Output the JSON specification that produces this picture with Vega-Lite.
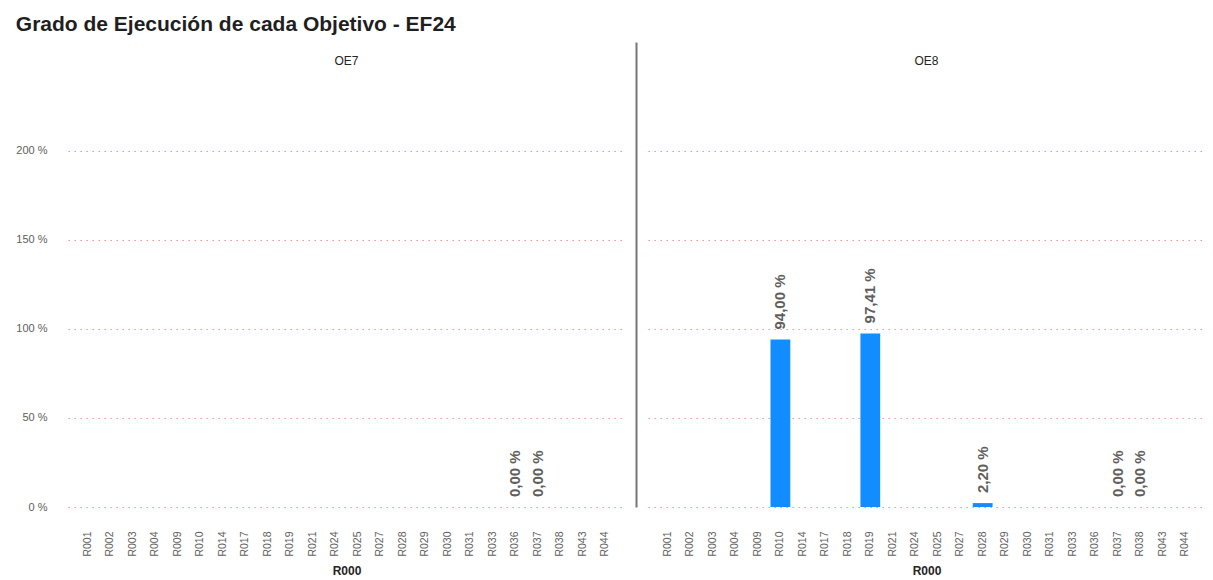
{
  "$schema": "https://vega.github.io/schema/vega-lite/v6.json",
  "padding": {"left": 15, "top": 14, "right": 8, "bottom": 0},
  "background": "#ffffff",
  "title": {
    "text": "Grado de Ejecución de cada Objetivo - EF24",
    "anchor": "start",
    "font": "Liberation Sans",
    "fontSize": 21,
    "fontWeight": "bold",
    "color": "#1f1f1f",
    "offset": 7
  },
  "config": {
    "locale": {
      "number": {"decimal": ",", "thousands": ".", "grouping": [3], "currency": ["", " %"]}
    },
    "font": "Liberation Sans",
    "view": {"stroke": null},
    "axis": {"labelFont": "Liberation Sans", "labelColor": "#605E5C", "titleFont": "Liberation Sans"},
    "title": {"font": "Liberation Sans"}
  },
  "data": {
    "values": [
      {"OE": "OE7", "R": "R036", "v": 0},
      {"OE": "OE7", "R": "R037", "v": 0},
      {"OE": "OE8", "R": "R010", "v": 94.0},
      {"OE": "OE8", "R": "R019", "v": 97.41},
      {"OE": "OE8", "R": "R028", "v": 2.2},
      {"OE": "OE8", "R": "R037", "v": 0},
      {"OE": "OE8", "R": "R038", "v": 0}
    ]
  },
  "bounds": "flush",
  "spacing": 23,
  "hconcat": [
    {
      "width": 557,
      "height": 465,
      "title": {"text": "OE7", "fontSize": 12, "fontWeight": "normal", "color": "#252423", "font": "Liberation Sans", "offset": -26, "anchor": "middle"},
      "transform": [{"filter": "datum.OE === 'OE7'"}],
      "encoding": {
        "x": {
          "field": "R", "type": "nominal",
          "scale": {"domain": ["R001","R002","R003","R004","R009","R010","R014","R017","R018","R019","R021","R024","R025","R027","R028","R029","R030","R031","R033","R036","R037","R038","R043","R044"], "paddingInner": 0.12, "paddingOuter": 0.45},
          "axis": {"title": "R000", "titleFontSize": 12, "titleFontWeight": "bold", "titleColor": "#252423", "titlePadding": 9, "labelAngle": -90, "labelFontSize": 10.5, "labelPadding": 24, "ticks": false, "domain": false}
        },
        "y": {
          "field": "v", "type": "quantitative",
          "scale": {"domain": [0, 261], "nice": false},
          "axis": {"title": null, "values": [0, 50, 100, 150, 200], "format": "$.0f", "labelFontSize": 11, "labelPadding": 21, "ticks": false, "domain": false, "grid": true, "gridColor": "#F2919C", "gridOpacity": 1, "gridDash": [1.5, 4.5], "gridWidth": 1.2}
        }
      },
      "layer": [
        {"mark": {"type": "bar", "color": "#118DFF"}},
        {"mark": {"type": "text", "angle": 270, "align": "left", "baseline": "middle", "dx": 10, "fontSize": 15, "fontWeight": "bold", "color": "#605E5C"},
         "encoding": {"text": {"field": "v", "type": "quantitative", "format": "$.2f"}}}
      ]
    },
    {
      "width": 557,
      "height": 465,
      "title": {"text": "OE8", "fontSize": 12, "fontWeight": "normal", "color": "#252423", "font": "Liberation Sans", "offset": -26, "anchor": "middle"},
      "transform": [{"filter": "datum.OE === 'OE8'"}],
      "encoding": {
        "x": {
          "field": "R", "type": "nominal",
          "scale": {"domain": ["R001","R002","R003","R004","R009","R010","R014","R017","R018","R019","R021","R024","R025","R027","R028","R029","R030","R031","R033","R036","R037","R038","R043","R044"], "paddingInner": 0.12, "paddingOuter": 0.45},
          "axis": {"title": "R000", "titleFontSize": 12, "titleFontWeight": "bold", "titleColor": "#252423", "titlePadding": 9, "labelAngle": -90, "labelFontSize": 10.5, "labelPadding": 24, "ticks": false, "domain": false}
        },
        "y": {
          "field": "v", "type": "quantitative",
          "scale": {"domain": [0, 261], "nice": false},
          "axis": {"title": null, "values": [0, 50, 100, 150, 200], "labels": false, "ticks": false, "domain": true, "domainColor": "#777777", "domainWidth": 2, "offset": 12, "grid": true, "gridColor": "#F2919C", "gridOpacity": 1, "gridDash": [1.5, 4.5], "gridWidth": 1.2}
        }
      },
      "layer": [
        {"mark": {"type": "bar", "color": "#118DFF"}},
        {"mark": {"type": "text", "angle": 270, "align": "left", "baseline": "middle", "dx": 10, "fontSize": 15, "fontWeight": "bold", "color": "#605E5C"},
         "encoding": {"text": {"field": "v", "type": "quantitative", "format": "$.2f"}}}
      ]
    }
  ]
}
